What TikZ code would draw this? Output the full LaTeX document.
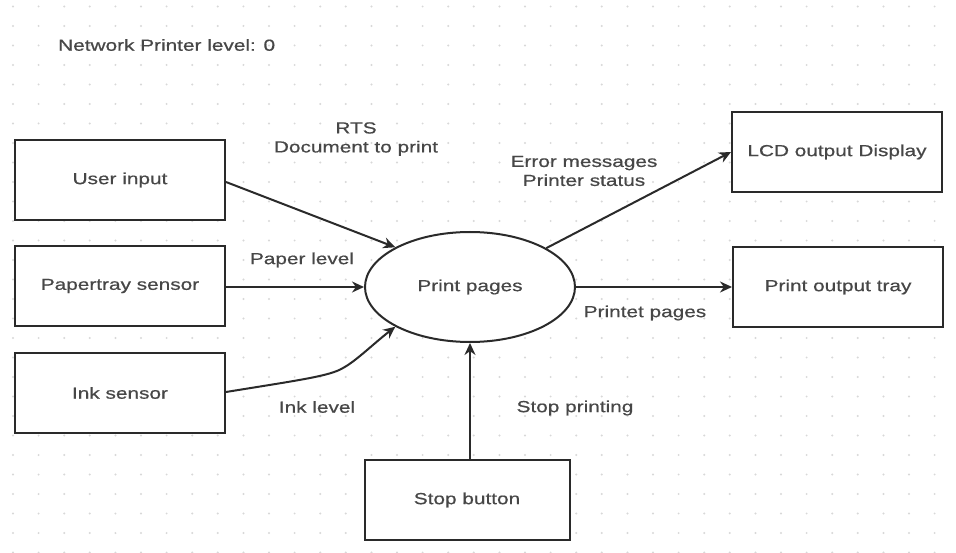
\documentclass[tikz,border=0pt]{standalone}
\usepackage{fontspec}
\setmainfont[FakeStretch=1.3,FakeBold=0.6]{Liberation Sans}
\usetikzlibrary{arrows.meta,shapes.geometric}
\definecolor{edge}{HTML}{2A2A2A}
\definecolor{txt}{HTML}{474747}
\definecolor{griddot}{HTML}{D8D8D8}
\tikzset{
  procbox/.style={draw=edge, line width=2pt, fill=white, minimum width=210pt, minimum height=80pt, inner sep=0pt, text=txt, font=\fontsize{16}{20}\selectfont},
  procell/.style={draw=edge, line width=2pt, fill=white, ellipse, minimum width=210pt, minimum height=110pt, inner sep=0pt, text=txt, font=\fontsize{16}{20}\selectfont},
  flow/.style={draw=edge, line width=2pt, -{Stealth[length=12pt,width=11pt]}},
  lbl/.style={text=txt, font=\fontsize{16}{19}\selectfont, align=center, inner sep=0pt}
}
\begin{document}
\begin{tikzpicture}[x=1pt,y=-1pt]
  \useasboundingbox[fill=white] (0,0) rectangle (956,553);
  % dotted background grid
  \foreach \i in {0,...,37} {
    \foreach \j in {0,...,28} {
      \fill[griddot] (13+25.6*\i, 6.5+19.5*\j) circle (1.1pt);
    }
  }
  \node[lbl, anchor=west] (title) at (58,45) {Network Printer level: 0};

  % external entities
  \node[procbox] (user)  at (120,180) {User input};
  \node[procbox] (paper) at (120,286) {Papertray sensor};
  \node[procbox] (ink)   at (120,393) {Ink sensor};
  \node[procbox] (lcd)   at (837,152) {LCD output Display};
  \node[procbox] (tray)  at (838,287) {Print output tray};
  \node[procbox, minimum width=205pt] (stop) at (467,500) {Stop button};

  % process
  \node[procell] (proc) at (470,287) {Print pages};

  % data flows
  \draw[flow] (user.east |- 0,182) -- (proc.152);
  \draw[flow] (paper.east |- 0,287) -- (proc.west);
  \coordinate (bend) at (343,368);
  \draw[flow] (ink.east |- 0,392) .. controls (300,380) and (330,376) .. (bend) .. controls (356,361) and (372,345) .. (proc.208);
  \draw[flow] (proc.27) -- (lcd.west);
  \draw[flow] (proc.east) -- (tray.west);
  \draw[flow] (stop.north -| proc.south) -- (proc.south);

  % flow labels
  \node[lbl] (l1) at (356,139) {RTS\\Document to print};
  \node[lbl] (l2) at (584,171) {Error messages\\Printer status};
  \node[lbl] (l3) at (302,260) {Paper level};
  \node[lbl] (l4) at (645,313) {Printet pages};
  \node[lbl] (l5) at (317,407) {Ink level};
  \node[lbl] (l6) at (575,408) {Stop printing};
\end{tikzpicture}
\end{document}
